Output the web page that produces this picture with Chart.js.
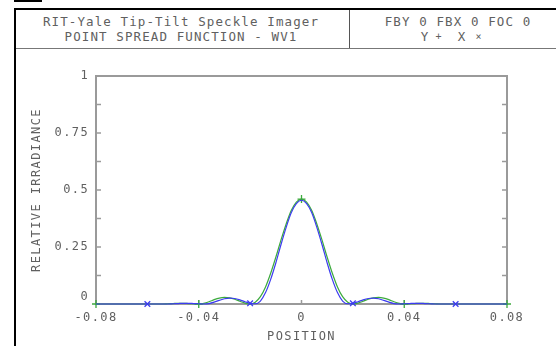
<!DOCTYPE html>
<html>
<head>
<meta charset="utf-8">
<script src="https://cdn.jsdelivr.net/npm/chart.js@4"></script>
<style>
  html, body { margin:0; padding:0; background:#fff; }
  #wrap { position:relative; width:556px; height:346px; overflow:hidden; background:#fff; }
  .ln { position:absolute; }
  .t { position:absolute; font-family:"DejaVu Sans Mono", monospace; font-size:12.5px; letter-spacing:1.1px; color:#606060; white-space:pre; transform:translate(-50%,-50%); line-height:1; }
  canvas { position:absolute; left:0; top:0; }
</style>
</head>
<body>
<div id="wrap">
  <div class="ln" style="left:14px;top:0px;width:28px;height:2px;background:#000"></div>
  <div class="ln" style="left:14px;top:8px;width:542px;height:2px;background:#000"></div>
  <div class="ln" style="left:14px;top:8px;width:2px;height:338px;background:#000"></div>
  <div class="ln" style="left:16px;top:48px;width:540px;height:1px;background:#777"></div>
  <div class="ln" style="left:349px;top:10px;width:1px;height:38px;background:#555"></div>
  <div class="t" style="left:181px;top:22px">RIT-Yale Tip-Tilt Speckle Imager</div>
  <div class="t" style="left:181px;top:37px">POINT SPREAD FUNCTION - WV1</div>
  <div class="t" style="left:458px;top:22px">FBY 0 FBX 0 FOC 0</div>
  <div class="t" style="left:425px;top:37px">Y</div>
  <div class="t" style="left:439px;top:37px;font-size:10px">+</div>
  <div class="t" style="left:462px;top:37px">X</div>
  <div class="t" style="left:479px;top:37px;font-size:10px">×</div>
  <canvas id="c" width="556" height="346"></canvas>
</div>
<script>
// ---- data ----
const positions = [
  -0.080,-0.078,-0.076,-0.074,-0.072,-0.070,-0.068,-0.066,-0.064,-0.062,
  -0.060,-0.058,-0.056,-0.054,-0.052,-0.050,-0.048,-0.046,-0.044,-0.042,
  -0.040,-0.038,-0.036,-0.034,-0.032,-0.030,-0.028,-0.026,-0.024,-0.022,
  -0.020,-0.018,-0.016,-0.014,-0.012,-0.010,-0.008,-0.006,-0.004,-0.002,
   0.000,
   0.002, 0.004, 0.006, 0.008, 0.010, 0.012, 0.014, 0.016, 0.018, 0.020,
   0.022, 0.024, 0.026, 0.028, 0.030, 0.032, 0.034, 0.036, 0.038, 0.040,
   0.042, 0.044, 0.046, 0.048, 0.050, 0.052, 0.054, 0.056, 0.058, 0.060,
   0.062, 0.064, 0.066, 0.068, 0.070, 0.072, 0.074, 0.076, 0.078, 0.080
];
// X profile (blue, x markers)
const irradianceX = [
  0,0,0,0,0,0,0,0,0,0,
  0,0,0,0,0,0.001,0.002,0.003,0.003,0.002,
  0.001,0,0.002,0.008,0.016,0.023,0.026,0.024,0.018,0.010,
  0.003,0.001,0.013,0.05,0.108,0.18,0.26,0.335,0.40,0.44,
  0.455,
  0.44,0.40,0.335,0.26,0.18,0.108,0.05,0.013,0.001,0.003,
  0.010,0.018,0.024,0.026,0.023,0.016,0.008,0.002,0,0.001,
  0.002,0.003,0.003,0.002,0.001,0,0,0,0,0,
  0,0,0,0,0,0,0,0,0,0
];
// Y profile (green, + markers)
const irradianceY = [
  0,0,0,0,0,0,0,0,0,0,
  0,0,0,0,0.001,0.002,0.003,0.003,0.002,0.001,
  0,0.003,0.010,0.019,0.026,0.029,0.027,0.021,0.012,0.004,
  0,0.008,0.032,0.075,0.135,0.205,0.28,0.35,0.41,0.447,
  0.46,
  0.447,0.41,0.35,0.28,0.205,0.135,0.075,0.032,0.008,0,
  0.004,0.012,0.021,0.027,0.029,0.026,0.019,0.010,0.003,0,
  0.001,0.002,0.003,0.003,0.002,0.001,0,0,0,0,
  0,0,0,0,0,0,0,0,0,0
];
const markerPosY = [-0.08, -0.04, 0, 0.04, 0.08];
const markerPosX = [-0.06, -0.02, 0.02, 0.06];
const xTickValues = [-0.08, -0.04, 0, 0.04, 0.08];
const xTickLabels = ['-0.08', '-0.04', '0', '0.04', '0.08'];
const yTickValues = [0, 0.25, 0.5, 0.75, 1];
const yTickLabels = ['0', '0.25', '0.5', '0.75', '1'];
const yMinorValues = [0, 0.125, 0.25, 0.375, 0.5, 0.625, 0.75, 0.875, 1];

const toPts = (vals) => positions.map((p, i) => ({x: p, y: vals[i]}));
const isMarker = (list, x) => list.some(m => Math.abs(m - x) < 1e-6);
const labelFor = (vals, labels, v) => {
  const i = vals.findIndex(t => Math.abs(t - v) < 1e-9);
  return i >= 0 ? labels[i] : '';
};

const FONT = {family: 'DejaVu Sans Mono', size: 12};
const TXT = '#606060';

const framePlugin = {
  id: 'frame',
  beforeDraw(chart) { chart.ctx.letterSpacing = '1.4px'; },
  beforeDatasetsDraw(chart) {
    const {ctx, chartArea: a, scales} = chart;
    ctx.save();
    ctx.strokeStyle = '#9a9a9a';
    ctx.lineWidth = 2;
    ctx.strokeRect(a.left, a.top, a.right - a.left, a.bottom - a.top);
    ctx.lineWidth = 1.5;
    ctx.beginPath();
    yMinorValues.forEach(v => {
      const y = scales.y.getPixelForValue(v);
      ctx.moveTo(a.left, y); ctx.lineTo(a.left + 5, y);
      ctx.moveTo(a.right, y); ctx.lineTo(a.right - 5, y);
    });
    xTickValues.forEach(v => {
      const x = scales.x.getPixelForValue(v);
      ctx.moveTo(x, a.bottom); ctx.lineTo(x, a.bottom - 4);
    });
    ctx.stroke();
    ctx.restore();
  }
};

new Chart(document.getElementById('c'), {
  type: 'line',
  data: {
    datasets: [
      {
        label: 'X',
        data: toPts(irradianceX),
        borderColor: 'rgb(60,60,240)',
        backgroundColor: 'rgb(60,60,240)',
        borderWidth: 1.2,
        cubicInterpolationMode: 'monotone',
        pointStyle: 'crossRot',
        pointRadius: c => isMarker(markerPosX, positions[c.dataIndex]) ? 4 : 0,
        pointBorderWidth: 1.3,
        pointHoverRadius: 0,
        clip: false
      },
      {
        label: 'Y',
        data: toPts(irradianceY),
        borderColor: 'rgb(60,170,60)',
        backgroundColor: 'rgb(60,170,60)',
        borderWidth: 1.2,
        cubicInterpolationMode: 'monotone',
        pointStyle: 'cross',
        pointRadius: c => isMarker(markerPosY, positions[c.dataIndex]) ? 4 : 0,
        pointBorderWidth: 1.3,
        pointHoverRadius: 0,
        clip: false
      }
    ]
  },
  options: {
    responsive: false,
    devicePixelRatio: 1,
    animation: false,
    events: [],
    layout: {padding: {left: 0, top: 76, right: 49, bottom: 0}},
    plugins: {legend: {display: false}, tooltip: {enabled: false}},
    scales: {
      x: {
        type: 'linear', min: -0.08, max: 0.08,
        afterFit: s => { s.height = 42; },
        afterBuildTicks: s => { s.ticks = xTickValues.map(v => ({value: v})); },
        grid: {display: false, drawTicks: false},
        border: {display: false},
        ticks: {
          autoSkip: false, maxRotation: 0, padding: 7,
          color: TXT, font: FONT,
          callback: v => labelFor(xTickValues, xTickLabels, v)
        },
        title: {display: true, text: 'POSITION', color: TXT, font: FONT, padding: {top: 0, bottom: 2}}
      },
      y: {
        type: 'linear', min: 0, max: 1,
        afterFit: s => { s.width = 96; },
        afterBuildTicks: s => { s.ticks = yTickValues.map(v => ({value: v})); },
        grid: {display: false, drawTicks: false},
        border: {display: false},
        ticks: {
          padding: 7, color: TXT, font: FONT,
          callback: v => { const l = labelFor(yTickValues, yTickLabels, v); return v === 0 ? [l, ''] : l; }
        },
        title: {display: true, text: 'RELATIVE IRRADIANCE', color: TXT, font: FONT, padding: {top: 30, bottom: 0}}
      }
    }
  },
  plugins: [framePlugin]
});
</script>
</body>
</html>
